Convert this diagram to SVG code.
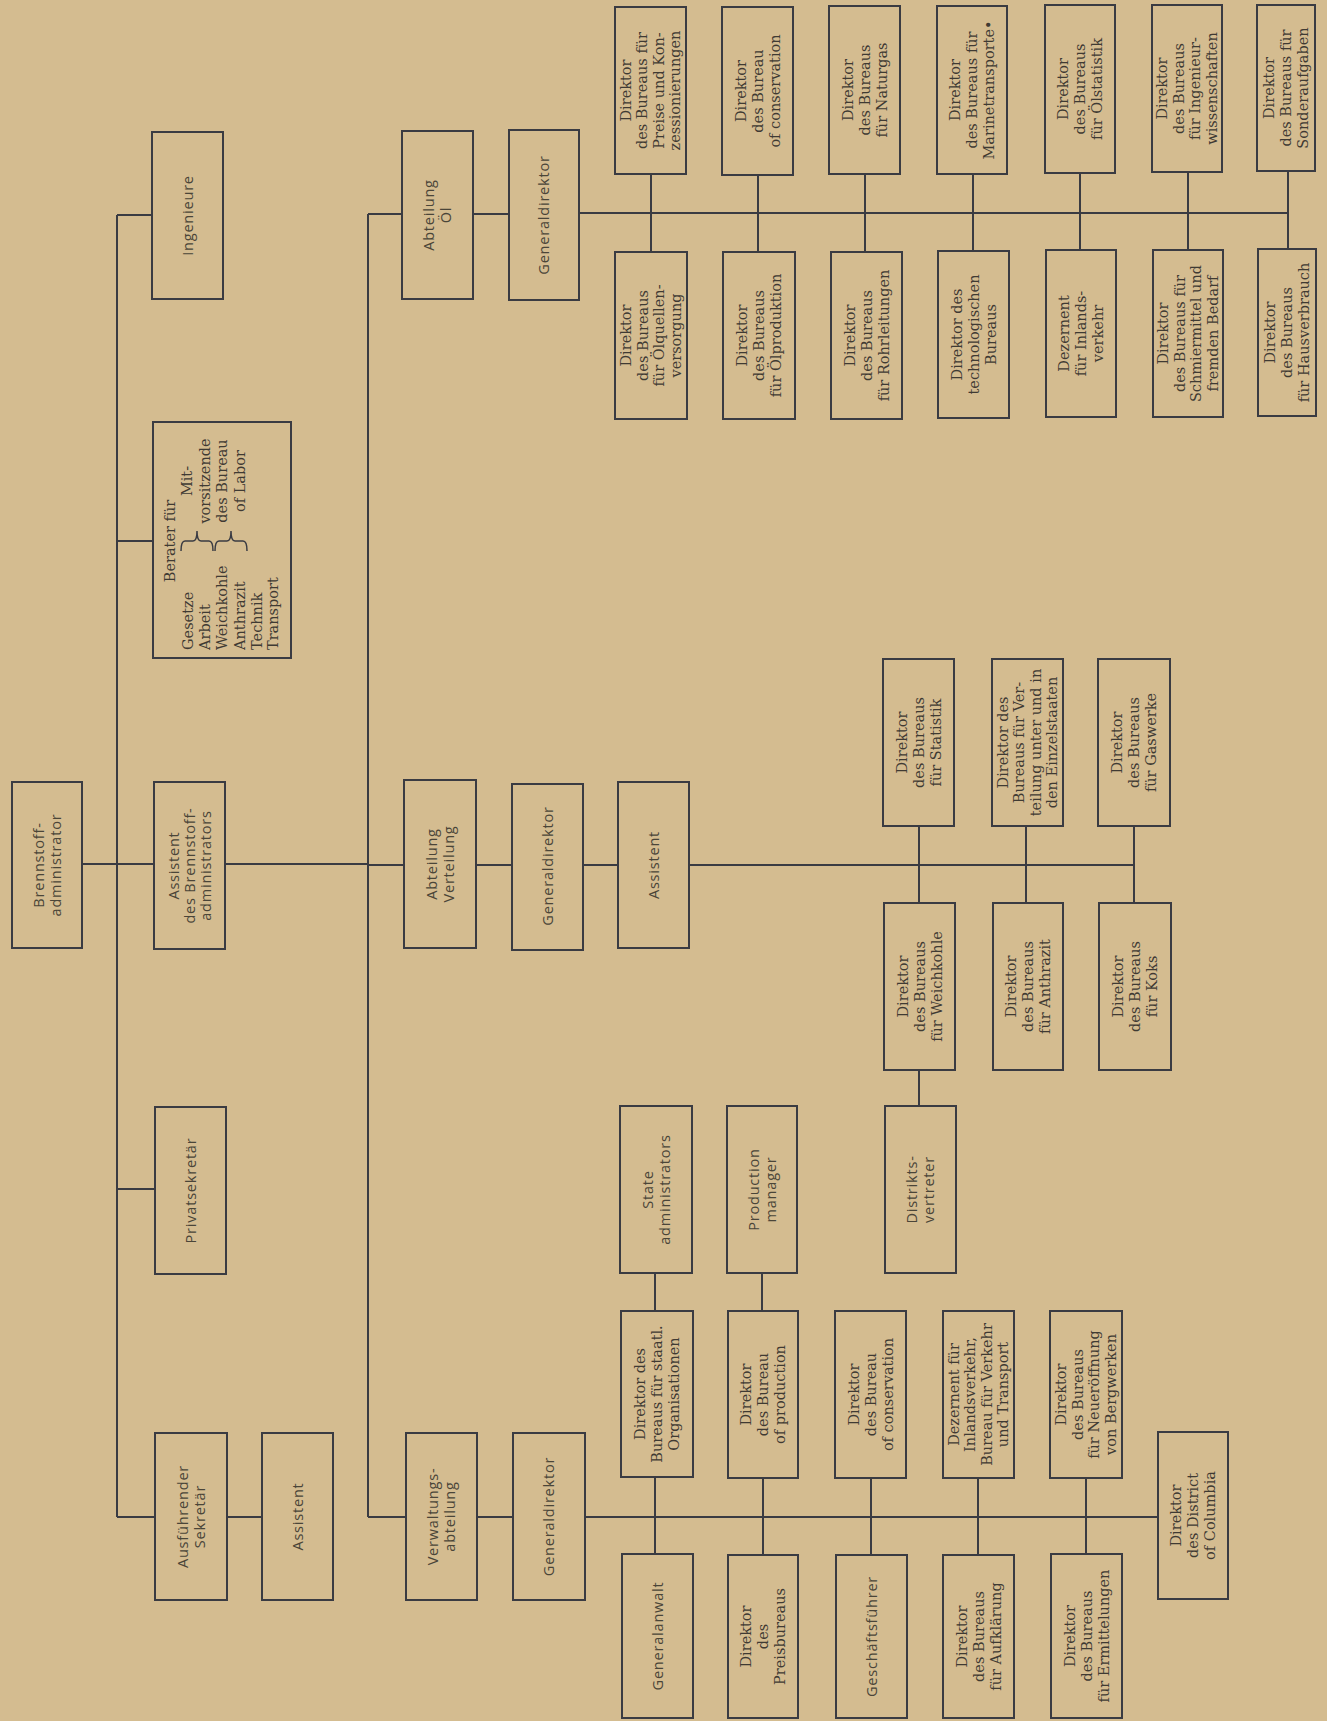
<svg xmlns="http://www.w3.org/2000/svg" width="1327" height="1721" viewBox="0 0 1327 1721">
<style>
.b{fill:none;stroke:#3a3b42;stroke-width:2}
.c line,.c path{stroke:#3a3b42;stroke-width:2;fill:none}
.t{font-family:"DejaVu Serif","Liberation Serif",serif;font-size:14.5px;fill:#3f3a33;text-anchor:middle}
.s{font-family:"Open Sans","Liberation Sans",sans-serif;font-size:14.5px;letter-spacing:0.8px;fill:#4a4538;text-anchor:middle}
.l{text-anchor:start}
</style>
<rect x="0" y="0" width="1327" height="1721" fill="#d4bc90"/>

<g id="connectors" class="c">
<line x1="82" y1="864" x2="117" y2="864"/>
<line x1="117" y1="215" x2="117" y2="1517"/>
<line x1="117" y1="215" x2="152" y2="215"/>
<line x1="117" y1="541" x2="153" y2="541"/>
<line x1="117" y1="864" x2="154" y2="864"/>
<line x1="117" y1="1189" x2="155" y2="1189"/>
<line x1="117" y1="1517" x2="155" y2="1517"/>
<line x1="227" y1="1517" x2="262" y2="1517"/>
<line x1="225" y1="864" x2="368" y2="864"/>
<line x1="368" y1="214" x2="368" y2="1517"/>
<line x1="368" y1="214" x2="402" y2="214"/>
<line x1="473" y1="214" x2="509" y2="214"/>
<line x1="579" y1="213" x2="1288" y2="213"/>
<line x1="651" y1="174" x2="651" y2="252"/>
<line x1="758" y1="175" x2="758" y2="252"/>
<line x1="865" y1="174" x2="865" y2="252"/>
<line x1="973" y1="174" x2="973" y2="251"/>
<line x1="1080" y1="173" x2="1080" y2="250"/>
<line x1="1188" y1="172" x2="1188" y2="250"/>
<line x1="1288" y1="171" x2="1288" y2="249"/>
<line x1="368" y1="865" x2="404" y2="865"/>
<line x1="476" y1="865" x2="512" y2="865"/>
<line x1="583" y1="865" x2="618" y2="865"/>
<line x1="689" y1="865" x2="1134" y2="865"/>
<line x1="919" y1="826" x2="919" y2="903"/>
<line x1="919" y1="1070" x2="919" y2="1106"/>
<line x1="1026" y1="826" x2="1026" y2="903"/>
<line x1="1134" y1="826" x2="1134" y2="903"/>
<line x1="368" y1="1517" x2="406" y2="1517"/>
<line x1="477" y1="1517" x2="513" y2="1517"/>
<line x1="585" y1="1517" x2="1158" y2="1517"/>
<line x1="655" y1="1273" x2="655" y2="1311"/>
<line x1="655" y1="1477" x2="655" y2="1554"/>
<line x1="762" y1="1273" x2="762" y2="1311"/>
<line x1="763" y1="1478" x2="763" y2="1555"/>
<line x1="871" y1="1478" x2="871" y2="1555"/>
<line x1="978" y1="1478" x2="978" y2="1555"/>
<line x1="1086" y1="1478" x2="1086" y2="1554"/>
</g>

<g id="n-brennstoffadministrator"><rect class="b" x="12" y="782" width="70" height="166"/>
<text class="s" transform="translate(47,865) rotate(-90)"><tspan x="0" y="-3.5">Brennstoff-</tspan><tspan x="0" y="13.5">administrator</tspan></text></g>

<g id="n-ingenieure"><rect class="b" x="152" y="132" width="71" height="167"/>
<text class="s" transform="translate(187.5,215.5) rotate(-90)"><tspan x="0" y="5">Ingenieure</tspan></text></g>

<g id="n-berater"><rect class="b" x="153" y="422" width="138" height="236"/>
<text class="t" transform="translate(175,541) rotate(-90)">Berater für</text>
<text class="t l" transform="translate(193,650) rotate(-90)">Gesetze</text>
<text class="t l" transform="translate(210,650) rotate(-90)">Arbeit</text>
<text class="t l" transform="translate(227,650) rotate(-90)">Weichkohle</text>
<text class="t l" transform="translate(245,650) rotate(-90)">Anthrazit</text>
<text class="t l" transform="translate(262,650) rotate(-90)">Technik</text>
<text class="t l" transform="translate(278,650) rotate(-90)">Transport</text>
<text class="t" transform="translate(192,481) rotate(-90)">Mit-</text>
<text class="t" transform="translate(210,481) rotate(-90)">vorsitzende</text>
<text class="t" transform="translate(227,481) rotate(-90)">des Bureau</text>
<text class="t" transform="translate(245,481) rotate(-90)">of Labor</text>
<path class="b" style="stroke-width:1.5" d="M181,551 Q181,541 185,541 L193,541 Q197,541 197,531 Q197,541 201,541 L209,541 Q213,541 213,551"/>
<path class="b" style="stroke-width:1.5" d="M215,551 Q215,541 219,541 L227,541 Q231,541 231,531 Q231,541 235,541 L243,541 Q247,541 247,551"/>
</g>

<g id="n-assistent-brennstoff"><rect class="b" x="154" y="782" width="71" height="167"/>
<text class="s" transform="translate(189.5,865.5) rotate(-90)"><tspan x="0" y="-11">Assistent</tspan><tspan x="0" y="5">des Brennstoff-</tspan><tspan x="0" y="21">administrators</tspan></text></g>

<g id="n-privatsekretaer"><rect class="b" x="155" y="1107" width="71" height="167"/>
<text class="s" transform="translate(190.5,1190.5) rotate(-90)"><tspan x="0" y="5">Privatsekretär</tspan></text></g>

<g id="n-ausfuehrender"><rect class="b" x="155" y="1433" width="72" height="167"/>
<text class="s" transform="translate(191,1516.5) rotate(-90)"><tspan x="0" y="-3.5">Ausführender</tspan><tspan x="0" y="13.5">Sekretär</tspan></text></g>

<g id="n-assistent-sekretaer"><rect class="b" x="262" y="1433" width="71" height="167"/>
<text class="s" transform="translate(297.5,1516.5) rotate(-90)"><tspan x="0" y="5">Assistent</tspan></text></g>

<g id="n-abteilung-oel"><rect class="b" x="402" y="131" width="71" height="168"/>
<text class="s" transform="translate(437.5,215) rotate(-90)"><tspan x="0" y="-3.5">Abteilung</tspan><tspan x="0" y="13.5">Öl</tspan></text></g>

<g id="n-generaldirektor-oel"><rect class="b" x="509" y="130" width="70" height="170"/>
<text class="s" transform="translate(544,215) rotate(-90)"><tspan x="0" y="5">Generaldirektor</tspan></text></g>

<g id="n-abteilung-verteilung"><rect class="b" x="404" y="780" width="72" height="168"/>
<text class="s" transform="translate(440,864) rotate(-90)"><tspan x="0" y="-3.5">Abteilung</tspan><tspan x="0" y="13.5">Verteilung</tspan></text></g>

<g id="n-generaldirektor-verteilung"><rect class="b" x="512" y="784" width="71" height="166"/>
<text class="s" transform="translate(547.5,866) rotate(-90)"><tspan x="0" y="5">Generaldirektor</tspan></text></g>

<g id="n-assistent-verteilung"><rect class="b" x="618" y="782" width="71" height="166"/>
<text class="s" transform="translate(653.5,865) rotate(-90)"><tspan x="0" y="5">Assistent</tspan></text></g>

<g id="n-verwaltungsabteilung"><rect class="b" x="406" y="1433" width="71" height="167"/>
<text class="s" transform="translate(441.5,1516.5) rotate(-90)"><tspan x="0" y="-3.5">Verwaltungs-</tspan><tspan x="0" y="13.5">abteilung</tspan></text></g>

<g id="n-generaldirektor-verwaltung"><rect class="b" x="513" y="1433" width="72" height="167"/>
<text class="s" transform="translate(549,1516.5) rotate(-90)"><tspan x="0" y="5">Generaldirektor</tspan></text></g>

<!-- Oel top row -->
<g id="n-preise"><rect class="b" x="615" y="7" width="71" height="167"/>
<text class="t" transform="translate(650.5,90.5) rotate(-90)"><tspan x="0" y="-19.75">Direktor</tspan><tspan x="0" y="-3.25">des Bureaus für</tspan><tspan x="0" y="13.25">Preise und Kon-</tspan><tspan x="0" y="29.75">zessionierungen</tspan></text></g>
<g id="n-conservation-oel"><rect class="b" x="722" y="7" width="71" height="168"/>
<text class="t" transform="translate(757.5,91) rotate(-90)"><tspan x="0" y="-12">Direktor</tspan><tspan x="0" y="5">des Bureau</tspan><tspan x="0" y="22">of conservation</tspan></text></g>
<g id="n-naturgas"><rect class="b" x="829" y="6" width="71" height="168"/>
<text class="t" transform="translate(864.5,90) rotate(-90)"><tspan x="0" y="-12">Direktor</tspan><tspan x="0" y="5">des Bureaus</tspan><tspan x="0" y="22">für Naturgas</tspan></text></g>
<g id="n-marinetransporte"><rect class="b" x="937" y="6" width="70" height="168"/>
<text class="t" transform="translate(972,90) rotate(-90)"><tspan x="0" y="-12">Direktor</tspan><tspan x="0" y="5">des Bureaus für</tspan><tspan x="0" y="22">Marinetransporte•</tspan></text></g>
<g id="n-oelstatistik"><rect class="b" x="1045" y="5" width="70" height="168"/>
<text class="t" transform="translate(1080,89) rotate(-90)"><tspan x="0" y="-12">Direktor</tspan><tspan x="0" y="5">des Bureaus</tspan><tspan x="0" y="22">für Ölstatistik</tspan></text></g>
<g id="n-ingenieurwiss"><rect class="b" x="1152" y="5" width="70" height="167"/>
<text class="t" transform="translate(1187,88.5) rotate(-90)"><tspan x="0" y="-19.75">Direktor</tspan><tspan x="0" y="-3.25">des Bureaus</tspan><tspan x="0" y="13.25">für Ingenieur-</tspan><tspan x="0" y="29.75">wissenschaften</tspan></text></g>
<g id="n-sonderaufgaben"><rect class="b" x="1257" y="5" width="58" height="166"/>
<text class="t" transform="translate(1286,88) rotate(-90)"><tspan x="0" y="-12">Direktor</tspan><tspan x="0" y="5">des Bureaus für</tspan><tspan x="0" y="22">Sonderaufgaben</tspan></text></g>

<!-- Oel bottom row -->
<g id="n-oelquellen"><rect class="b" x="615" y="252" width="72" height="167"/>
<text class="t" transform="translate(651,335.5) rotate(-90)"><tspan x="0" y="-19.75">Direktor</tspan><tspan x="0" y="-3.25">des Bureaus</tspan><tspan x="0" y="13.25">für Ölquellen-</tspan><tspan x="0" y="29.75">versorgung</tspan></text></g>
<g id="n-oelproduktion"><rect class="b" x="723" y="252" width="72" height="167"/>
<text class="t" transform="translate(759,335.5) rotate(-90)"><tspan x="0" y="-12">Direktor</tspan><tspan x="0" y="5">des Bureaus</tspan><tspan x="0" y="22">für Ölproduktion</tspan></text></g>
<g id="n-rohrleitungen"><rect class="b" x="831" y="252" width="71" height="167"/>
<text class="t" transform="translate(866.5,335.5) rotate(-90)"><tspan x="0" y="-12">Direktor</tspan><tspan x="0" y="5">des Bureaus</tspan><tspan x="0" y="22">für Rohrleitungen</tspan></text></g>
<g id="n-technologisch"><rect class="b" x="938" y="251" width="71" height="167"/>
<text class="t" transform="translate(973.5,334.5) rotate(-90)"><tspan x="0" y="-12">Direktor des</tspan><tspan x="0" y="5">technologischen</tspan><tspan x="0" y="22">Bureaus</tspan></text></g>
<g id="n-inlandsverkehr-oel"><rect class="b" x="1046" y="250" width="70" height="167"/>
<text class="t" transform="translate(1081,333.5) rotate(-90)"><tspan x="0" y="-12">Dezernent</tspan><tspan x="0" y="5">für Inlands-</tspan><tspan x="0" y="22">verkehr</tspan></text></g>
<g id="n-schmiermittel"><rect class="b" x="1153" y="250" width="70" height="167"/>
<text class="t" transform="translate(1188,333.5) rotate(-90)"><tspan x="0" y="-19.75">Direktor</tspan><tspan x="0" y="-3.25">des Bureaus für</tspan><tspan x="0" y="13.25">Schmiermittel und</tspan><tspan x="0" y="29.75">fremden Bedarf</tspan></text></g>
<g id="n-hausverbrauch"><rect class="b" x="1258" y="249" width="58" height="167"/>
<text class="t" transform="translate(1287,332.5) rotate(-90)"><tspan x="0" y="-12">Direktor</tspan><tspan x="0" y="5">des Bureaus</tspan><tspan x="0" y="22">für Hausverbrauch</tspan></text></g>

<!-- Verteilung -->
<g id="n-statistik"><rect class="b" x="883" y="659" width="71" height="167"/>
<text class="t" transform="translate(918.5,742.5) rotate(-90)"><tspan x="0" y="-12">Direktor</tspan><tspan x="0" y="5">des Bureaus</tspan><tspan x="0" y="22">für Statistik</tspan></text></g>
<g id="n-einzelstaaten"><rect class="b" x="992" y="659" width="71" height="167"/>
<text class="t" transform="translate(1027.5,742.5) rotate(-90)"><tspan x="0" y="-19.75">Direktor des</tspan><tspan x="0" y="-3.25">Bureaus für Ver-</tspan><tspan x="0" y="13.25">teilung unter und in</tspan><tspan x="0" y="29.75">den Einzelstaaten</tspan></text></g>
<g id="n-gaswerke"><rect class="b" x="1098" y="659" width="72" height="167"/>
<text class="t" transform="translate(1134,742.5) rotate(-90)"><tspan x="0" y="-12">Direktor</tspan><tspan x="0" y="5">des Bureaus</tspan><tspan x="0" y="22">für Gaswerke</tspan></text></g>
<g id="n-weichkohle"><rect class="b" x="884" y="903" width="71" height="167"/>
<text class="t" transform="translate(919.5,986.5) rotate(-90)"><tspan x="0" y="-12">Direktor</tspan><tspan x="0" y="5">des Bureaus</tspan><tspan x="0" y="22">für Weichkohle</tspan></text></g>
<g id="n-anthrazit"><rect class="b" x="993" y="903" width="70" height="167"/>
<text class="t" transform="translate(1028,986.5) rotate(-90)"><tspan x="0" y="-12">Direktor</tspan><tspan x="0" y="5">des Bureaus</tspan><tspan x="0" y="22">für Anthrazit</tspan></text></g>
<g id="n-koks"><rect class="b" x="1099" y="903" width="72" height="167"/>
<text class="t" transform="translate(1135,986.5) rotate(-90)"><tspan x="0" y="-12">Direktor</tspan><tspan x="0" y="5">des Bureaus</tspan><tspan x="0" y="22">für Koks</tspan></text></g>
<g id="n-distriktsvertreter"><rect class="b" x="885" y="1106" width="71" height="167"/>
<text class="s" transform="translate(920.5,1189.5) rotate(-90)"><tspan x="0" y="-3.5">Distrikts-</tspan><tspan x="0" y="13.5">vertreter</tspan></text></g>

<!-- Verwaltung -->
<g id="n-state-admin"><rect class="b" x="620" y="1106" width="72" height="167"/>
<text class="s" transform="translate(656,1189.5) rotate(-90)"><tspan x="0" y="-3.5">State</tspan><tspan x="0" y="13.5">administrators</tspan></text></g>
<g id="n-production-manager"><rect class="b" x="727" y="1106" width="70" height="167"/>
<text class="s" transform="translate(762,1189.5) rotate(-90)"><tspan x="0" y="-3.5">Production</tspan><tspan x="0" y="13.5">manager</tspan></text></g>
<g id="n-staatl"><rect class="b" x="621" y="1311" width="72" height="166"/>
<text class="t" transform="translate(657,1394) rotate(-90)"><tspan x="0" y="-12">Direktor des</tspan><tspan x="0" y="5">Bureaus für staatl.</tspan><tspan x="0" y="22">Organisationen</tspan></text></g>
<g id="n-production"><rect class="b" x="728" y="1311" width="70" height="167"/>
<text class="t" transform="translate(763,1394.5) rotate(-90)"><tspan x="0" y="-12">Direktor</tspan><tspan x="0" y="5">des Bureau</tspan><tspan x="0" y="22">of production</tspan></text></g>
<g id="n-conservation-verw"><rect class="b" x="835" y="1311" width="71" height="167"/>
<text class="t" transform="translate(870.5,1394.5) rotate(-90)"><tspan x="0" y="-12">Direktor</tspan><tspan x="0" y="5">des Bureau</tspan><tspan x="0" y="22">of conservation</tspan></text></g>
<g id="n-dezernent"><rect class="b" x="943" y="1311" width="71" height="167"/>
<text class="t" transform="translate(978.5,1394.5) rotate(-90)"><tspan x="0" y="-19.75">Dezernent für</tspan><tspan x="0" y="-3.25">Inlandsverkehr,</tspan><tspan x="0" y="13.25">Bureau für Verkehr</tspan><tspan x="0" y="29.75">und Transport</tspan></text></g>
<g id="n-neueroeffnung"><rect class="b" x="1050" y="1311" width="72" height="167"/>
<text class="t" transform="translate(1086,1394.5) rotate(-90)"><tspan x="0" y="-19.75">Direktor</tspan><tspan x="0" y="-3.25">des Bureaus</tspan><tspan x="0" y="13.25">für Neueröffnung</tspan><tspan x="0" y="29.75">von Bergwerken</tspan></text></g>
<g id="n-generalanwalt"><rect class="b" x="622" y="1554" width="71" height="164"/>
<text class="s" transform="translate(657.5,1636) rotate(-90)"><tspan x="0" y="5">Generalanwalt</tspan></text></g>
<g id="n-preisbureaus"><rect class="b" x="728" y="1555" width="70" height="163"/>
<text class="t" transform="translate(763,1636.5) rotate(-90)"><tspan x="0" y="-12">Direktor</tspan><tspan x="0" y="5">des</tspan><tspan x="0" y="22">Preisbureaus</tspan></text></g>
<g id="n-geschaeftsfuehrer"><rect class="b" x="836" y="1555" width="71" height="163"/>
<text class="s" transform="translate(871.5,1636.5) rotate(-90)"><tspan x="0" y="5">Geschäftsführer</tspan></text></g>
<g id="n-aufklaerung"><rect class="b" x="943" y="1555" width="71" height="163"/>
<text class="t" transform="translate(978.5,1636.5) rotate(-90)"><tspan x="0" y="-12">Direktor</tspan><tspan x="0" y="5">des Bureaus</tspan><tspan x="0" y="22">für Aufklärung</tspan></text></g>
<g id="n-ermittelungen"><rect class="b" x="1051" y="1554" width="71" height="164"/>
<text class="t" transform="translate(1086.5,1636) rotate(-90)"><tspan x="0" y="-12">Direktor</tspan><tspan x="0" y="5">des Bureaus</tspan><tspan x="0" y="22">für Ermittelungen</tspan></text></g>
<g id="n-district"><rect class="b" x="1158" y="1432" width="70" height="167"/>
<text class="t" transform="translate(1193,1515.5) rotate(-90)"><tspan x="0" y="-12">Direktor</tspan><tspan x="0" y="5">des District</tspan><tspan x="0" y="22">of Columbia</tspan></text></g>
</svg>
